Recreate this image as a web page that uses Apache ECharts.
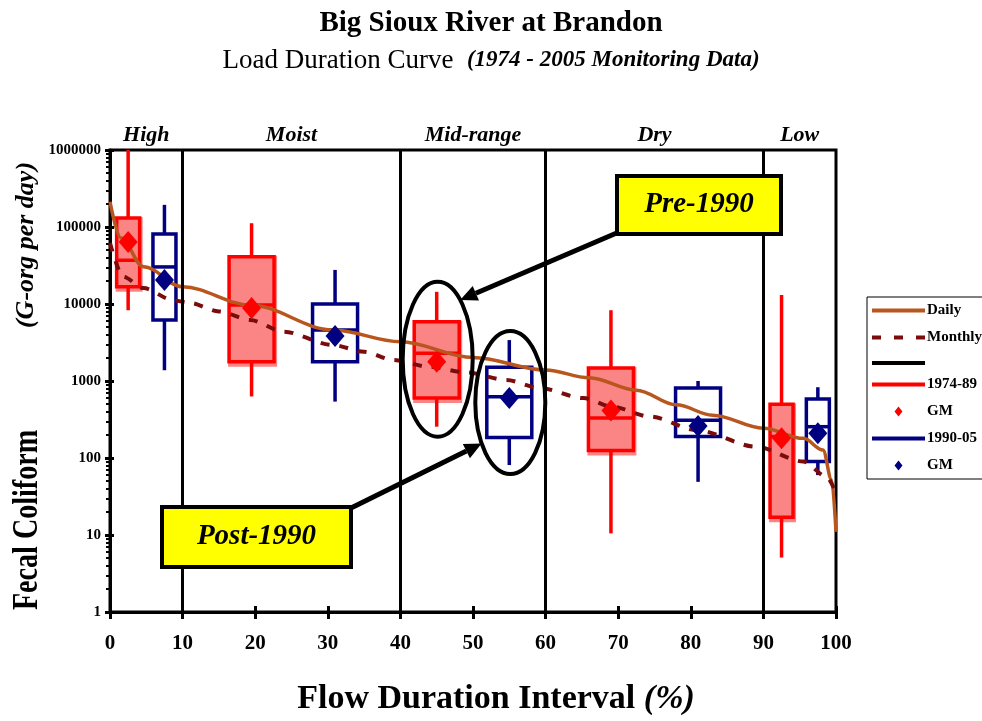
<!DOCTYPE html>
<html>
<head>
<meta charset="utf-8">
<title>Big Sioux River at Brandon – Load Duration Curve</title>
<script src="https://cdn.jsdelivr.net/npm/echarts@6/dist/echarts.min.js"></script>
<style>
  html, body { margin: 0; padding: 0; background: #fff; }
  #chart { width: 982px; height: 721px; }
</style>
</head>
<body>
<div id="chart"></div>
<script>
// ---- Flow zones ----
const zoneNames = ['High', 'Moist', 'Mid-range', 'Dry', 'Low'];
const zoneEdges = [0, 10, 40, 60, 90, 100];

// ---- Load duration curves (flow duration %, G-org per day) ----
const dailyPct  = [0, 1.5, 4.6, 10, 19.3, 30.7, 40, 50, 60, 66, 72.5, 78, 83, 90, 95.5, 98.2, 99.4, 100];
const dailyLoad = [213000, 72000, 30500, 16700, 9700, 4600, 3240, 2020, 1390, 1100, 760, 490, 360, 244, 180, 127, 52, 11];

const monthlyPct  = [0, 1.8, 4.6, 8.7, 11, 15, 19.3, 23.9, 30.7, 35, 39, 44, 49.1, 54.6, 59.2, 65.2, 69.1, 74.4, 80.8, 89, 95.5, 98.7, 100];
const monthlyLoad = [62000, 22600, 16100, 11200, 10300, 8000, 6200, 4370, 2930, 2400, 1880, 1530, 1290, 1030, 810, 600, 465, 345, 230, 140, 90, 57, 35];

// ---- Box plots, 1974-89 ----
const pct7489 = [2.5, 19.5, 45, 69, 92.5];
const min7489 = [8300, 630, 255, 10.5, 5.1];
const q1_7489 = [16700, 1780, 600, 125, 17];
const med7489 = [37000, 9700, 2290, 330, 190];
const q3_7489 = [131000, 41000, 5900, 1470, 500];
const max7489 = [1000000, 112000, 14400, 8300, 13100];
const gm7489  = [64000, 8900, 1780, 413, 180];

// ---- Box plots, 1990-05 ----
const pct9005 = [7.5, 31, 55, 81, 97.5];
const min9005 = [1380, 540, 81, 49, 60];
const q1_9005 = [6200, 1780, 185, 190, 90];
const med9005 = [30300, 4600, 625, 310, 255];
const q3_9005 = [81000, 10000, 1510, 810, 585];
const max9005 = [194000, 27700, 3400, 1000, 830];
const gm9005  = [20500, 3830, 600, 261, 210];

// ---- Axis ticks ----
const xTicks = [0, 10, 20, 30, 40, 50, 60, 70, 80, 90, 100];
const yTicks = [1, 10, 100, 1000, 10000, 100000, 1000000];

const SERIF = '"Liberation Serif", "Times New Roman", serif';
const RED = '#ff0000';
const RED_FILL = '#fb8585';
const NAVY = '#000080';
const DAILY_C = '#b8561e';
const MONTHLY_C = '#7b0c0c';

const zip = (a, b) => a.map((v, i) => [v, b[i]]);
const boxRows = (pct, mn, q1, md, q3, mx) => pct.map((p, i) => [p, mn[i], q1[i], md[i], q3[i], mx[i]]);

// box width in pixels depends on how wide its flow zone is
function boxWidthPx(pct) {
  for (let i = 0; i < zoneEdges.length - 1; i++) {
    if (pct >= zoneEdges[i] && pct <= zoneEdges[i + 1]) {
      return (zoneEdges[i + 1] - zoneEdges[i]) <= 10 ? 23 : 45;
    }
  }
  return 40;
}

function boxRenderer(stroke, filled) {
  return function (params, api) {
    const x = api.value(0);
    const pMin = api.coord([x, api.value(1)]);
    const pQ1 = api.coord([x, api.value(2)]);
    const pMed = api.coord([x, api.value(3)]);
    const pQ3 = api.coord([x, api.value(4)]);
    const pMax = api.coord([x, api.value(5)]);
    const cx = pMin[0];
    const w = boxWidthPx(x);
    const lw = 3.5;
    const children = [];
    if (filled) {
      children.push({
        type: 'rect',
        shape: { x: cx - w / 2 - 1, y: pQ3[1] - 1, width: w + 4, height: pQ1[1] - pQ3[1] + 6 },
        style: { fill: RED_FILL }
      });
    }
    children.push({
      type: 'line',
      shape: { x1: cx, y1: pMax[1], x2: cx, y2: pQ3[1] },
      style: { stroke: stroke, lineWidth: lw }
    });
    children.push({
      type: 'line',
      shape: { x1: cx, y1: pQ1[1], x2: cx, y2: pMin[1] },
      style: { stroke: stroke, lineWidth: lw }
    });
    children.push({
      type: 'rect',
      shape: { x: cx - w / 2, y: pQ3[1], width: w, height: pQ1[1] - pQ3[1] },
      style: { fill: filled ? 'rgba(0,0,0,0)' : '#ffffff', stroke: stroke, lineWidth: lw }
    });
    children.push({
      type: 'line',
      shape: { x1: cx - w / 2, y1: pMed[1], x2: cx + w / 2, y2: pMed[1] },
      style: { stroke: stroke, lineWidth: lw }
    });
    return { type: 'group', children: children };
  };
}

const chart = echarts.init(document.getElementById('chart'), null, { renderer: 'canvas' });

const linePath = 'path://M0,0h53v4h-53z';
const dashPath = 'path://M0,0h9v4h-9z M22,0h9v4h-9z M44,0h9v4h-9z';
const diamondPath = 'path://M0,5h0.01v0.01h-0.01z M22.5,5 L26.5,0 L30.5,5 L26.5,10 Z M52.99,5h0.01v0.01h-0.01z';

const option = {
  animation: false,
  backgroundColor: '#ffffff',
  title: {
    left: 'center',
    top: 4,
    itemGap: 9,
    text: 'Big Sioux River at Brandon',
    textStyle: { fontFamily: SERIF, fontWeight: 'bold', fontSize: 29, color: '#000' },
    subtext: 'Load Duration Curve  {i|(1974 - 2005 Monitoring Data)}',
    subtextStyle: {
      fontFamily: SERIF, fontSize: 27, color: '#000',
      rich: { i: { fontFamily: SERIF, fontSize: 23, fontStyle: 'italic', fontWeight: 'bold', color: '#000' } }
    }
  },
  legend: {
    orient: 'vertical',
    left: 867,
    top: 297,
    padding: [6, 40, 6, 5],
    itemWidth: 53,
    itemHeight: 12,
    itemGap: 12,
    borderColor: '#000',
    borderWidth: 1,
    selectedMode: false,
    textStyle: { fontFamily: SERIF, fontWeight: 'bold', fontSize: 15, color: '#000', padding: [0, 0, 0, -3] },
    formatter: function (name) {
      if (name.indexOf('GM') === 0) return 'GM';
      if (name === 'Flow zones') return '';
      return name;
    },
    data: [
      { name: 'Daily', icon: linePath, itemStyle: { color: DAILY_C } },
      { name: 'Monthly', icon: dashPath, itemStyle: { color: MONTHLY_C } },
      { name: 'Flow zones', icon: linePath, itemStyle: { color: '#000' } },
      { name: '1974-89', icon: linePath, itemStyle: { color: RED } },
      { name: 'GM 1974-89', icon: diamondPath, itemStyle: { color: RED } },
      { name: '1990-05', icon: linePath, itemStyle: { color: NAVY } },
      { name: 'GM 1990-05', icon: diamondPath, itemStyle: { color: NAVY } }
    ]
  },
  grid: {
    left: 110, right: 146, top: 150, bottom: 109,
    outerBoundsMode: 'none',
    containLabel: false,
    show: true, borderColor: '#000', borderWidth: 3, backgroundColor: 'transparent'
  },
  xAxis: [
    {
      type: 'value', min: xTicks[0], max: xTicks[xTicks.length - 1], interval: 10,
      name: 'Flow Duration Interval {i|(%)}',
      nameLocation: 'middle',
      nameGap: 70,
      nameTextStyle: {
        fontFamily: SERIF, fontWeight: 'bold', fontSize: 34, color: '#000',
        padding: [0, 0, 0, 46],
        rich: { i: { fontFamily: SERIF, fontWeight: 'bold', fontStyle: 'italic', fontSize: 34, color: '#000' } }
      },
      axisLine: { show: true, lineStyle: { color: '#000', width: 3 } },
      axisTick: { show: true, length: 7, lineStyle: { color: '#000', width: 3 } },
      axisLabel: { fontFamily: SERIF, fontWeight: 'bold', fontSize: 21, color: '#000', margin: 21 },
      splitLine: { show: false }
    },
    {
      type: 'value', min: xTicks[0], max: xTicks[xTicks.length - 1], interval: 10,
      position: 'bottom', offset: 0,
      axisLine: { show: false },
      axisTick: { show: true, inside: true, length: 6, lineStyle: { color: '#000', width: 3 } },
      axisLabel: { show: false },
      splitLine: { show: false }
    }
  ],
  yAxis: [
    {
      type: 'log', logBase: 10, min: yTicks[0], max: yTicks[yTicks.length - 1],
      axisLine: { show: true, lineStyle: { color: '#000', width: 3 } },
      axisTick: { show: true, length: 5, lineStyle: { color: '#000', width: 3 } },
      minorTick: { show: true, splitNumber: 9, length: 4, lineStyle: { color: '#000', width: 2 } },
      axisLabel: {
        fontFamily: SERIF, fontWeight: 'bold', fontSize: 15, color: '#000', margin: 9,
        formatter: function (v) { return String(Math.round(v)); }
      },
      splitLine: { show: false }
    },
    {
      type: 'log', logBase: 10, min: yTicks[0], max: yTicks[yTicks.length - 1],
      position: 'left', offset: 0,
      axisLine: { show: false },
      axisTick: { show: true, inside: true, length: 4, lineStyle: { color: '#000', width: 3 } },
      axisLabel: { show: false },
      splitLine: { show: false }
    }
  ],
  series: [
    {
      name: 'Flow zones',
      type: 'line',
      data: [],
      silent: true,
      z: 1,
      markLine: {
        silent: true,
        symbol: 'none',
        label: { show: false },
        lineStyle: { color: '#000', width: 3, type: 'solid' },
        data: zoneEdges.slice(1, -1).map(v => ({ xAxis: v }))
      },
      markArea: {
        silent: true,
        itemStyle: { color: 'rgba(0,0,0,0)' },
        label: {
          show: true, position: 'top', distance: 4,
          fontFamily: SERIF, fontWeight: 'bold', fontStyle: 'italic', fontSize: 22, color: '#000'
        },
        data: zoneNames.map((n, i) => [{ name: n, xAxis: zoneEdges[i] }, { xAxis: zoneEdges[i + 1] }])
      }
    },
    {
      name: '1974-89',
      type: 'custom',
      z: 2,
      renderItem: boxRenderer(RED, true),
      encode: { x: 0, y: [1, 2, 3, 4, 5] },
      data: boxRows(pct7489, min7489, q1_7489, med7489, q3_7489, max7489)
    },
    {
      name: '1990-05',
      type: 'custom',
      z: 2,
      renderItem: boxRenderer(NAVY, false),
      encode: { x: 0, y: [1, 2, 3, 4, 5] },
      data: boxRows(pct9005, min9005, q1_9005, med9005, q3_9005, max9005)
    },
    {
      name: 'Daily',
      type: 'line',
      z: 3,
      smooth: 0.35,
      smoothMonotone: 'x',
      showSymbol: false,
      symbol: 'none',
      lineStyle: { color: DAILY_C, width: 3.5 },
      itemStyle: { color: DAILY_C },
      data: zip(dailyPct, dailyLoad)
    },
    {
      name: 'Monthly',
      type: 'line',
      z: 3,
      smooth: 0.3,
      smoothMonotone: 'x',
      showSymbol: false,
      symbol: 'none',
      lineStyle: { color: MONTHLY_C, width: 4, type: [9, 10] },
      itemStyle: { color: MONTHLY_C },
      data: zip(monthlyPct, monthlyLoad)
    },
    {
      name: 'GM 1974-89',
      type: 'scatter',
      z: 4,
      symbol: 'diamond',
      symbolSize: [19, 22],
      itemStyle: { color: RED, opacity: 1 },
      data: zip(pct7489, gm7489)
    },
    {
      name: 'GM 1990-05',
      type: 'scatter',
      z: 4,
      symbol: 'diamond',
      symbolSize: [19, 22],
      itemStyle: { color: NAVY, opacity: 1 },
      data: zip(pct9005, gm9005)
    }
  ]
};

chart.setOption(option);

// ---- Annotations: ellipses around the mid-range boxes, callouts with arrows ----
function px(x, y) { return chart.convertToPixel({ xAxisIndex: 0, yAxisIndex: 0 }, [x, y]); }

function ringAround(pct, lo, hi, padY) {
  const top = px(pct, hi), bot = px(pct, lo);
  return { cx: top[0] + 1, cy: (top[1] + bot[1]) / 2, rx: 35, ry: (bot[1] - top[1]) / 2 + padY };
}

function arrow(from, to, head) {
  const dx = to[0] - from[0], dy = to[1] - from[1];
  const len = Math.sqrt(dx * dx + dy * dy);
  const ux = dx / len, uy = dy / len;
  const base = [to[0] - ux * head, to[1] - uy * head];
  const nx = -uy, ny = ux;
  return [
    { type: 'line', z: 20, shape: { x1: from[0], y1: from[1], x2: base[0], y2: base[1] },
      style: { stroke: '#000', lineWidth: 5 } },
    { type: 'polygon', z: 20, shape: { points: [to, [base[0] + nx * 8, base[1] + ny * 8], [base[0] - nx * 8, base[1] - ny * 8]] },
      style: { fill: '#000' } }
  ];
}

const midPre = 2, midPost = 2;
const ringPre = ringAround(pct7489[midPre], min7489[midPre], max7489[midPre], 10);
const ringPost = ringAround(pct9005[midPost], min9005[midPost], max9005[midPost], 9);

const aPre = -50 * Math.PI / 180;
const tipPre = [ringPre.cx + ringPre.rx * Math.cos(aPre), ringPre.cy + ringPre.ry * Math.sin(aPre)];
const aPost = 145 * Math.PI / 180;
const tipPost = [ringPost.cx + ringPost.rx * Math.cos(aPost), ringPost.cy + ringPost.ry * Math.sin(aPost)];

const preBox = { x: 617, y: 176, width: 164, height: 58 };
const postBox = { x: 162, y: 507, width: 189, height: 60 };

const calloutFont = 'italic bold 29px ' + SERIF;

const graphics = [
  { type: 'ellipse', z: 20, shape: ringPre, style: { fill: 'none', stroke: '#000', lineWidth: 4 } },
  { type: 'ellipse', z: 20, shape: ringPost, style: { fill: 'none', stroke: '#000', lineWidth: 4 } }
]
  .concat(arrow([preBox.x + 2, preBox.y + preBox.height - 2], tipPre, 17))
  .concat(arrow([postBox.x + postBox.width - 2, postBox.y + 2], tipPost, 17))
  .concat([
    { type: 'rect', z: 21, shape: preBox, style: { fill: '#ffff00', stroke: '#000', lineWidth: 4 } },
    { type: 'text', z: 22, x: preBox.x + preBox.width / 2, y: preBox.y + preBox.height / 2,
      style: { text: 'Pre-1990', font: calloutFont, fill: '#000', align: 'center', verticalAlign: 'middle' } },
    { type: 'rect', z: 21, shape: postBox, style: { fill: '#ffff00', stroke: '#000', lineWidth: 4 } },
    { type: 'text', z: 22, x: postBox.x + postBox.width / 2, y: postBox.y + postBox.height / 2,
      style: { text: 'Post-1990', font: calloutFont, fill: '#000', align: 'center', verticalAlign: 'middle' } },
    // y-axis title
    { type: 'text', z: 10, x: 28, y: 520, rotation: Math.PI / 2, scaleX: 0.78,
      style: { text: 'Fecal Coliform', font: 'bold 36px ' + SERIF, fill: '#000', align: 'center', verticalAlign: 'middle' } },
    { type: 'text', z: 10, x: 26, y: 245, rotation: Math.PI / 2,
      style: { text: '(G-org per day)', font: 'italic bold 26px ' + SERIF, fill: '#000', align: 'center', verticalAlign: 'middle' } }
  ]);

chart.setOption({ graphic: graphics });
</script>
</body>
</html>
